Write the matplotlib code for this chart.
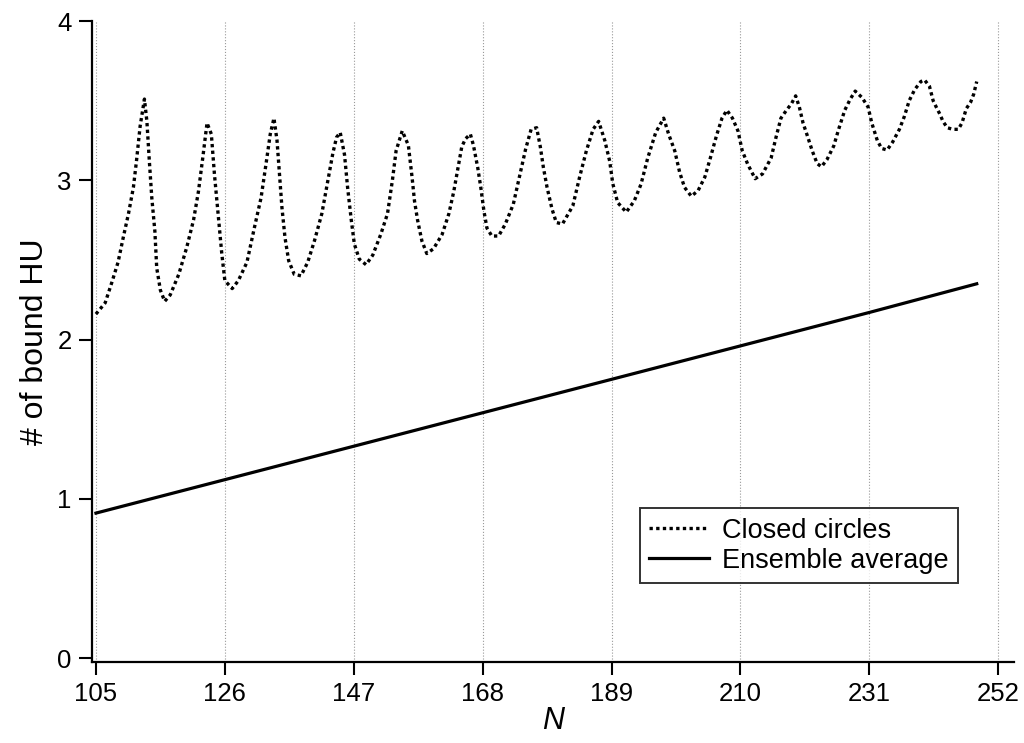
import matplotlib
matplotlib.use("Agg")
import matplotlib.pyplot as plt

plt.rcParams['font.family'] = ['Liberation Sans', 'DejaVu Sans']

# closed circles
N_closed = [105.0, 106.5, 107.6, 108.6, 109.5, 110.3, 111.1, 111.6, 112.2, 112.9,
            113.3, 113.7, 114.1, 114.6, 114.9, 115.5, 116.2, 117.1, 118.5, 119.8,
            120.9, 121.7, 122.4, 123.1, 123.8, 124.3, 124.9, 125.5, 126.0, 127.2,
            128.2, 129.6, 130.8, 131.9, 132.7, 133.4, 134.0, 134.5, 134.9, 135.3,
            135.8, 136.4, 137.3, 138.4, 139.5, 140.6, 141.8, 142.8, 143.6, 144.2,
            144.8, 145.5, 146.0, 146.6, 147.1, 147.9, 149.0, 150.1, 151.4, 152.5,
            153.3, 153.9, 154.9, 155.9, 156.5, 156.9, 157.4, 158.1, 158.9, 160.0,
            161.4, 162.5, 163.3, 164.1, 164.6, 165.2, 166.0, 166.5, 167.2, 167.7,
            168.2, 168.7, 169.5, 170.6, 171.7, 173.0, 174.1, 175.0, 175.9, 176.8,
            177.4, 177.9, 178.5, 179.3, 180.0, 181.0, 182.7, 183.8, 184.9, 186.0,
            186.9, 187.9, 188.7, 189.2, 190.0, 191.4, 192.7, 193.8, 194.9, 196.2,
            197.5, 198.3, 199.3, 200.1, 200.9, 202.0, 203.1, 204.2, 205.1, 206.1,
            207.0, 207.8, 208.7, 209.6, 210.3, 211.2, 212.4, 213.6, 215.0, 215.8,
            216.6, 217.5, 218.3, 219.0, 219.6, 220.2, 220.9, 221.7, 222.5, 223.2,
            224.1, 225.2, 226.0, 227.0, 227.9, 228.7, 229.8, 230.8, 231.4, 231.9,
            232.3, 233.0, 233.9, 234.8, 235.9, 236.7, 237.5, 238.4, 239.4, 240.0,
            240.8, 241.4, 241.9, 242.5, 243.0, 243.7, 244.6, 245.5, 246.1, 246.8,
            247.5, 248.0, 248.5]
hu_closed = [2.16, 2.23, 2.36, 2.485, 2.65, 2.79, 2.955, 3.12, 3.34, 3.51,
             3.37, 3.12, 2.89, 2.68, 2.45, 2.31, 2.24, 2.28, 2.41, 2.58,
             2.75, 2.93, 3.14, 3.36, 3.29, 3.04, 2.79, 2.54, 2.37, 2.32,
             2.37, 2.485, 2.70, 2.89, 3.10, 3.29, 3.39, 3.25, 3.04, 2.83,
             2.64, 2.495, 2.41, 2.40, 2.485, 2.62, 2.79, 3.00, 3.17, 3.27,
             3.30, 3.16, 2.955, 2.75, 2.60, 2.505, 2.47, 2.53, 2.66, 2.79,
             3.00, 3.185, 3.31, 3.22, 3.02, 2.87, 2.75, 2.62, 2.54, 2.57,
             2.66, 2.79, 2.93, 3.10, 3.21, 3.26, 3.29, 3.22, 3.08, 2.955,
             2.81, 2.70, 2.65, 2.65, 2.725, 2.85, 3.04, 3.195, 3.32, 3.33,
             3.21, 3.08, 2.955, 2.82, 2.735, 2.725, 2.84, 3.02, 3.185, 3.32,
             3.37, 3.25, 3.12, 2.98, 2.86, 2.80, 2.87, 2.975, 3.14, 3.30,
             3.39, 3.29, 3.185, 3.05, 2.955, 2.90, 2.935, 3.02, 3.14, 3.28,
             3.39, 3.44, 3.39, 3.31, 3.185, 3.10, 3.01, 3.04, 3.14, 3.27,
             3.39, 3.44, 3.48, 3.53, 3.46, 3.36, 3.28, 3.185, 3.105, 3.085,
             3.13, 3.215, 3.32, 3.44, 3.51, 3.56, 3.52, 3.46, 3.36, 3.30,
             3.25, 3.20, 3.19, 3.24, 3.32, 3.40, 3.50, 3.57, 3.62, 3.63,
             3.59, 3.50, 3.46, 3.415, 3.37, 3.33, 3.32, 3.32, 3.36, 3.45,
             3.49, 3.54, 3.62]

# ensemble average
N_avg = [105, 147, 189, 231, 248.5]
hu_avg = [0.91, 1.33, 1.75, 2.17, 2.35]

xticks = [105, 126, 147, 168, 189, 210, 231, 252]
yticks = [0, 1, 2, 3, 4]

fig = plt.figure(figsize=(10.24, 7.43), dpi=100)
ax = fig.add_axes([0.0898, 0.109, 0.9, 0.8627])

ax.plot(N_closed, hu_closed, color='black', lw=2.4, linestyle=(0, (1, 1.0)),
        label='Closed circles')
ax.plot(N_avg, hu_avg, color='black', lw=2.3, label='Ensemble average')

ax.set_xlim(104.35, 254.5)
ax.set_ylim(-0.025, 4)
ax.set_xticks(xticks)
ax.set_yticks(yticks)
ax.grid(axis='x', color='#999999', linestyle=':', lw=0.8)

for s in ['top', 'right']:
    ax.spines[s].set_visible(False)
for s in ['left', 'bottom']:
    ax.spines[s].set_linewidth(1.6)
ax.tick_params(direction='out', length=9.5, width=1.5, labelsize=18.5, pad=5)

ax.set_xlabel('N', fontsize=22, style='italic', labelpad=0)
ax.set_ylabel('# of bound HU', fontsize=23, labelpad=5)

leg = ax.legend(loc='lower right', bbox_to_anchor=(0.94, 0.123), borderaxespad=0,
                fontsize=19.5, frameon=True, fancybox=False, handlelength=2.2,
                handletextpad=0.5, labelspacing=0.15, borderpad=0.35)
leg.get_frame().set_edgecolor('black')
leg.get_frame().set_linewidth(1.4)

fig.savefig('out.png', dpi=100)
